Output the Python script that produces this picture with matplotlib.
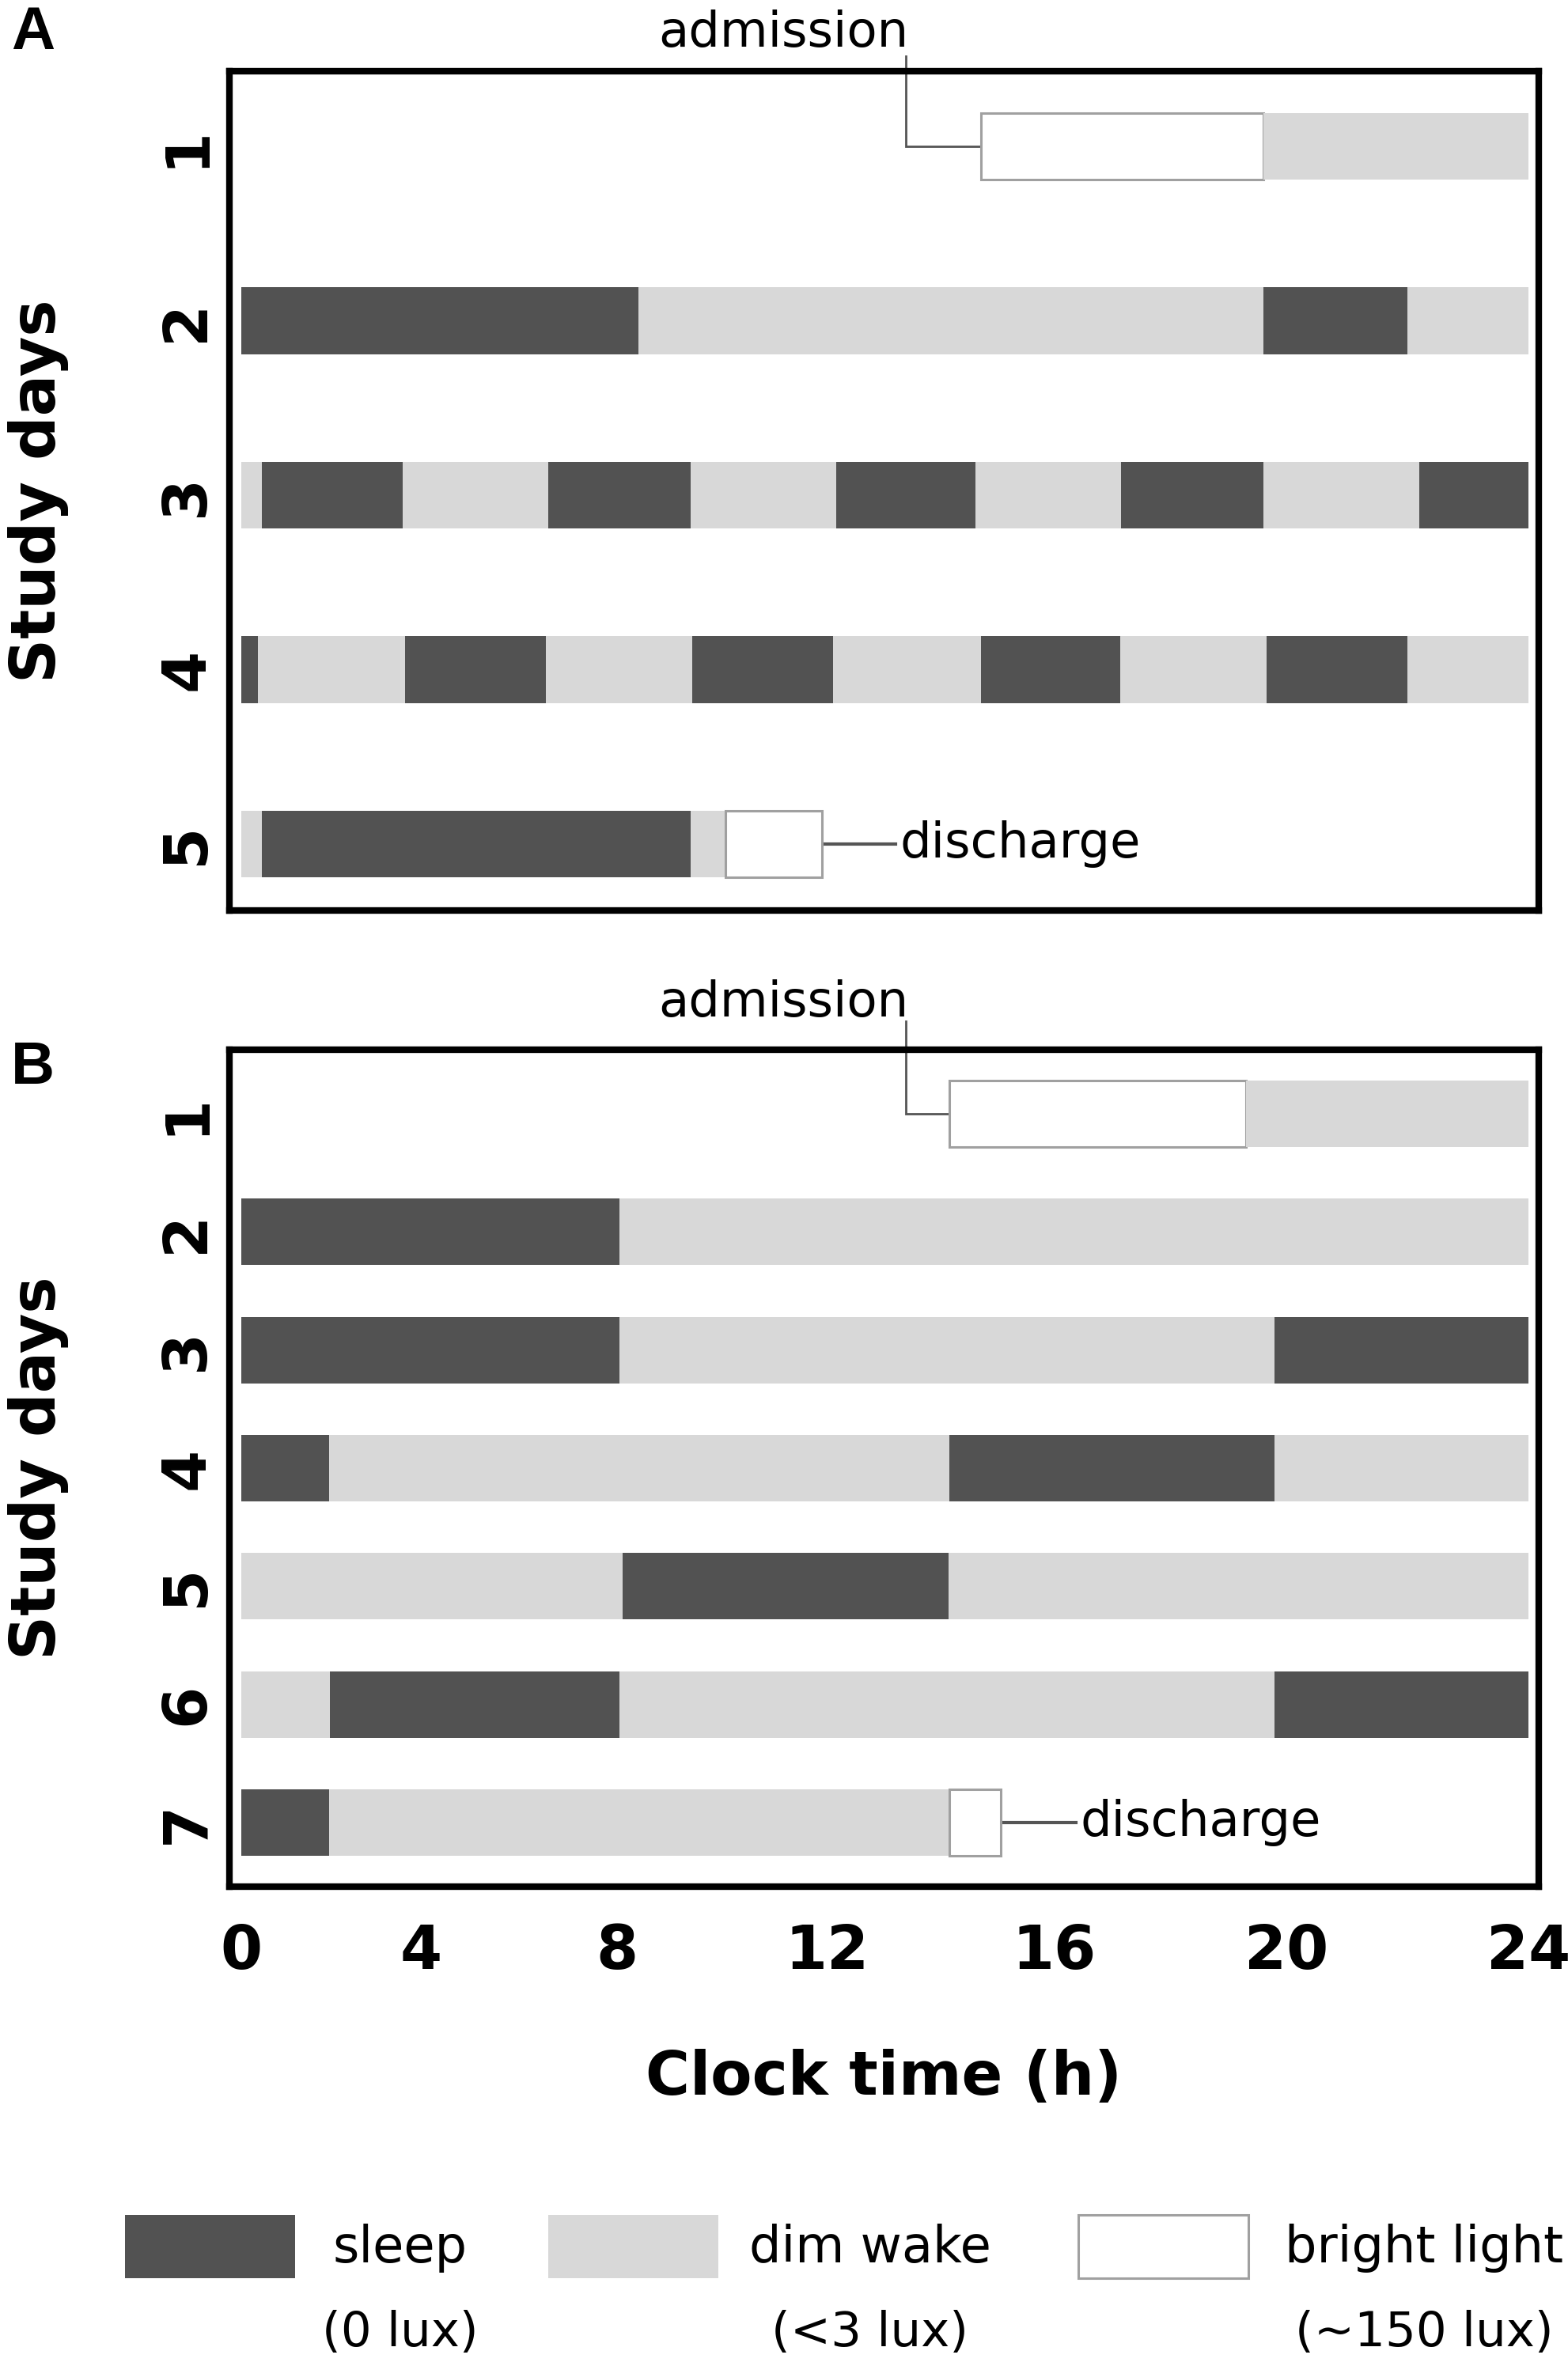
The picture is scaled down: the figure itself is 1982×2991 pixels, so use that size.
import numpy as np
import matplotlib
matplotlib.use("Agg")
import matplotlib.pyplot as plt
from matplotlib.patches import Rectangle

# ---------------- data (hours) ----------------
A_DAY = [1, 1,
         2, 2, 2, 2,
         3, 3, 3, 3, 3, 3, 3, 3, 3, 3,
         4, 4, 4, 4, 4, 4, 4, 4, 4, 4,
         5, 5, 5, 5]
A_START = [14.7, 19.6,
           0.0, 8.4, 19.6, 22.0,
           0.0, 0.45, 3.6, 6.6, 9.4, 12.15, 14.6, 17.15, 19.6, 22.2,
           0.0, 0.37, 3.65, 6.55, 9.43, 12.1, 14.7, 17.13, 19.66, 22.0,
           0.0, 0.45, 9.4, 10.06]
A_END = [19.6, 24.0,
         8.4, 19.6, 22.0, 24.0,
         0.45, 3.6, 6.6, 9.4, 12.15, 14.6, 17.15, 19.6, 22.2, 24.0,
         0.37, 3.65, 6.55, 9.43, 12.1, 14.7, 17.13, 19.66, 22.0, 24.0,
         0.45, 9.4, 10.06, 11.9]
A_STATE = ["bright", "dim",
           "sleep", "dim", "sleep", "dim",
           "dim", "sleep", "dim", "sleep", "dim", "sleep", "dim", "sleep", "dim", "sleep",
           "sleep", "dim", "sleep", "dim", "sleep", "dim", "sleep", "dim", "sleep", "dim",
           "dim", "sleep", "dim", "bright"]

B_DAY = [1, 1,
         2, 2,
         3, 3, 3,
         4, 4, 4, 4,
         5, 5, 5,
         6, 6, 6, 6,
         7, 7, 7]
B_START = [14.15, 19.3,
           0.0, 8.05,
           0.0, 8.05, 19.8,
           0.0, 1.95, 14.15, 19.8,
           0.0, 8.1, 14.13,
           0.0, 1.97, 8.05, 19.8,
           0.0, 1.95, 14.15]
B_END = [19.3, 24.0,
         8.05, 24.0,
         8.05, 19.8, 24.0,
         1.95, 14.15, 19.8, 24.0,
         8.1, 14.13, 24.0,
         1.97, 8.05, 19.8, 24.0,
         1.95, 14.15, 15.05]
B_STATE = ["bright", "dim",
           "sleep", "dim",
           "sleep", "dim", "sleep",
           "sleep", "dim", "sleep", "dim",
           "dim", "sleep", "dim",
           "dim", "sleep", "dim", "sleep",
           "sleep", "dim", "bright"]

A_ADMISSION_H = 13.38      # leader line of "admission", panel A
A_DISCHARGE_H = 13.2       # end of leader of "discharge", panel A
B_ADMISSION_H = 13.38
B_DISCHARGE_H = 16.37

X_TICKS = [0, 4, 8, 12, 16, 20, 24]
X_TICK_LABELS = ["0", "4", "8", "12", "16", "20", "24"]
XLABEL = "Clock time (h)"
YLABEL = "Study days"
LEGEND_LABELS = ["sleep", "dim wake", "bright light"]
LEGEND_SUBLABELS = ["(0 lux)", "(<3 lux)", "(~150 lux)"]
LEGEND_STATES = ["sleep", "dim", "bright"]

# ---------------- styling ----------------
W, H = 1983, 2991
COLORS = {"sleep": "#525252", "dim": "#d8d8d8", "bright": "#ffffff"}
EDGES = {"sleep": "none", "dim": "none", "bright": "#a0a0a0"}

# the clock axis of the original figure is not evenly spaced:
# hour marks -> horizontal position (pixels) as drawn in the picture
SCALE_H = np.array([0, 4, 8, 12, 16, 20, 24], float)
SCALE_P = np.array([305, 532, 780, 1046, 1333, 1626, 1932], float)


def _pw(x, xs, ys):
    x = np.asarray(x, float)
    y = np.interp(x, xs, ys)
    s0 = (ys[1] - ys[0]) / (xs[1] - xs[0])
    s1 = (ys[-1] - ys[-2]) / (xs[-1] - xs[-2])
    y = np.where(x < xs[0], ys[0] + (x - xs[0]) * s0, y)
    y = np.where(x > xs[-1], ys[-1] + (x - xs[-1]) * s1, y)
    return y


def fwd(h):
    return _pw(h, SCALE_H, SCALE_P)


def inv(p):
    return _pw(p, SCALE_P, SCALE_H)


plt.rcParams["font.family"] = ["DejaVu Sans"]

fig = plt.figure(figsize=(W / 100, H / 100), dpi=100)


def px_axes(left, top, right, bottom):
    return fig.add_axes([left / W, 1 - bottom / H, (right - left) / W, (bottom - top) / H])


axA = px_axes(290, 90, 1945, 1151)
axB = px_axes(290, 1327, 1945, 2385)

TICKFS = 55


def draw_panel(ax, days, starts, ends, states, ndays, ylim, bar_h):
    ax.set_xscale("function", functions=(fwd, inv))
    for d, s, e, st in zip(days, starts, ends, states):
        ax.barh(d, e - s, left=s, height=bar_h, color=COLORS[st],
                edgecolor=EDGES[st], linewidth=2.2 if st == "bright" else 0, zorder=2)
    ax.set_xlim(inv(290), inv(1945))
    ax.set_ylim(*ylim)
    ax.set_yticks(range(1, ndays + 1))
    ax.set_yticklabels([str(i) for i in range(1, ndays + 1)],
                       fontsize=TICKFS, fontweight="bold", rotation=90, va="center")
    ax.tick_params(axis="y", length=0, pad=12)
    ax.set_xticks(X_TICKS)
    ax.set_xticklabels(X_TICK_LABELS, fontsize=TICKFS, fontweight="bold")
    ax.tick_params(axis="x", length=0, pad=33)
    ax.minorticks_off()
    for sp in ax.spines.values():
        sp.set_linewidth(6)
        sp.set_color("black")
    ax.set_ylabel(YLABEL, fontsize=56, fontweight="bold", va="center")
    ax.yaxis.set_label_coords((48 - 290) / 1655, 0.5)


# Panel A
draw_panel(axA, A_DAY, A_START, A_END, A_STATE, 5, (5.381, 0.569), 0.385)
axA.tick_params(axis="x", labelbottom=False)
# Panel B
draw_panel(axB, B_DAY, B_START, B_END, B_STATE, 7, (7.542, 0.4576), 0.563)
axB.set_xlabel(XLABEL, fontsize=55, fontweight="bold", va="center")
axB.xaxis.set_label_coords(0.5, -(2627 - 2385) / 1058)

LEADER = "#555555"
ANNFS = 45


def bright_start(days, starts, states, day):
    for d, s, st in zip(days, starts, states):
        if d == day and st == "bright":
            return s


def bright_end(days, ends, states, day):
    for d, e, st in zip(days, ends, states):
        if d == day and st == "bright":
            return e


# admission A
xa = bright_start(A_DAY, A_START, A_STATE, 1)
axA.plot([A_ADMISSION_H, A_ADMISSION_H, xa], [0.483, 1, 1], color=LEADER, lw=2,
         clip_on=False, zorder=1, solid_joinstyle="miter")
axA.text(A_ADMISSION_H + 0.05, 0.43, "admission", ha="right", va="baseline",
         fontsize=ANNFS, clip_on=False)
# discharge A
xd = bright_end(A_DAY, A_END, A_STATE, 5)
axA.plot([xd, A_DISCHARGE_H], [5, 5], color=LEADER, lw=3, zorder=1)
axA.text(A_DISCHARGE_H + 0.08, 5, "discharge", ha="left", va="center", fontsize=ANNFS)

# admission B
xb = bright_start(B_DAY, B_START, B_STATE, 1)
axB.plot([B_ADMISSION_H, B_ADMISSION_H, xb], [0.2165, 1, 1], color=LEADER, lw=2,
         clip_on=False, zorder=1, solid_joinstyle="miter")
axB.text(B_ADMISSION_H + 0.05, 0.176, "admission", ha="right", va="baseline",
         fontsize=ANNFS, clip_on=False)
# discharge B
xd = bright_end(B_DAY, B_END, B_STATE, 7)
axB.plot([xd, B_DISCHARGE_H], [7, 7], color=LEADER, lw=3, zorder=1)
axB.text(B_DISCHARGE_H + 0.08, 7, "discharge", ha="left", va="center", fontsize=ANNFS)

# panel letters
fig.text(42 / W, 1 - 42 / H, "A", fontsize=55, fontweight="bold",
         family="Liberation Sans", ha="center", va="center")
fig.text(41 / W, 1 - 1350 / H, "B", fontsize=55, fontweight="bold",
         family="Liberation Sans", ha="center", va="center")

# legend (drawn in figure pixels)
box_left = [158, 693, 1363]
text_center = [506, 1100, 1800]
box_w, box_h, box_top = 215, 80, 2800
for bl, tc, lab, sub, st in zip(box_left, text_center, LEGEND_LABELS, LEGEND_SUBLABELS, LEGEND_STATES):
    r = Rectangle((bl / W, 1 - (box_top + box_h) / H), box_w / W, box_h / H,
                  transform=fig.transFigure, facecolor=COLORS[st],
                  edgecolor=EDGES[st], linewidth=2.2 if st == "bright" else 0)
    fig.add_artist(r)
    fig.text(tc / W, 1 - 2842 / H, lab, fontsize=46, ha="center", va="center")
    fig.text(tc / W, 1 - 2949 / H, sub, fontsize=44, ha="center", va="center")

fig.savefig("out.png", dpi=100)
